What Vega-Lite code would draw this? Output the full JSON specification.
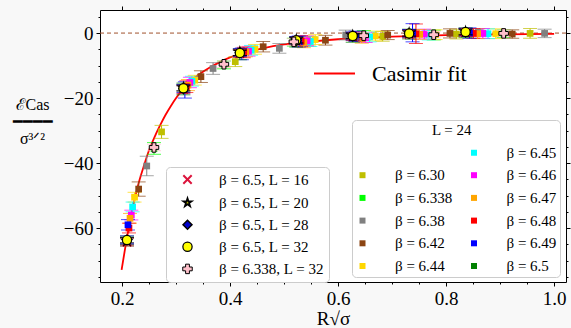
{
 "$schema": "https://vega.github.io/schema/vega-lite/v6.json",
 "width": 466, "height": 272,
 "autosize": {"type": "none"},
 "padding": {"left": 100, "top": 10, "right": 5, "bottom": 46},
 "background": "#f8f8f8",
 "config": {
   "view": {"fill": "white", "stroke": "black", "strokeWidth": 1},
   "font": "Liberation Serif",
   "axis": {"grid": false, "domain": false, "tickColor": "black", "labelColor": "black", "labelFont": "Liberation Serif", "labelFontSize": 19, "titleFont": "Liberation Serif", "titleColor": "black", "titleFontWeight": "normal"},
   "legend": {"labelFont": "Liberation Serif", "titleFont": "Liberation Serif", "labelColor": "black", "titleColor": "black", "titleFontWeight": "normal"}
 },
 "datasets": {
  "fit": [
   {"x":0.199,"y":-72.9},{"x":0.205,"y":-66.8},{"x":0.21,"y":-62},{"x":0.215,"y":-57.5},{"x":0.22,"y":-53.5},{"x":0.225,"y":-49.9},{"x":0.23,"y":-46.5},{"x":0.24,"y":-41},{"x":0.25,"y":-36},{"x":0.26,"y":-32},{"x":0.27,"y":-28.5},{"x":0.28,"y":-25.3},{"x":0.29,"y":-22.5},{"x":0.30,"y":-20},{"x":0.31,"y":-17.8},{"x":0.32,"y":-16},{"x":0.34,"y":-13},{"x":0.36,"y":-10.8},{"x":0.38,"y":-9},{"x":0.40,"y":-7.5},{"x":0.43,"y":-5.9},{"x":0.46,"y":-4.7},{"x":0.50,"y":-3.5},{"x":0.55,"y":-2.6},{"x":0.60,"y":-1.9},{"x":0.65,"y":-1.45},{"x":0.70,"y":-1.1},{"x":0.75,"y":-0.85},{"x":0.80,"y":-0.65},{"x":0.85,"y":-0.5},{"x":0.90,"y":-0.4},{"x":0.95,"y":-0.32},{"x":1.0,"y":-0.25}
  ],
  "l24": [
   {"b":"β = 6.30","x":0.273,"y":-30.4,"e":2.0},{"b":"β = 6.30","x":0.4095,"y":-8.8,"e":1.5},{"b":"β = 6.30","x":0.546,"y":-2.5,"e":1.5},{"b":"β = 6.30","x":0.6825,"y":-1.0,"e":1.5},{"b":"β = 6.30","x":0.819,"y":-0.3,"e":1.5},{"b":"β = 6.30","x":0.9555,"y":-0.1,"e":1.5},
   {"b":"β = 6.338","x":0.259,"y":-35.5,"e":1.8},{"b":"β = 6.338","x":0.3885,"y":-9.8,"e":1.2},{"b":"β = 6.338","x":0.518,"y":-2.8,"e":1.2},{"b":"β = 6.338","x":0.6475,"y":-0.7,"e":1.5},{"b":"β = 6.338","x":0.777,"y":-0.6,"e":1.5},{"b":"β = 6.338","x":0.9065,"y":-0.2,"e":1.2},
   {"b":"β = 6.38","x":0.2456,"y":-40.9,"e":3.0},{"b":"β = 6.38","x":0.3684,"y":-10.9,"e":1.8},{"b":"β = 6.38","x":0.4912,"y":-4.7,"e":1.5},{"b":"β = 6.38","x":0.614,"y":-0.6,"e":1.5},{"b":"β = 6.38","x":0.7368,"y":-0.4,"e":1.5},{"b":"β = 6.38","x":0.8596,"y":0.2,"e":1.2},{"b":"β = 6.38","x":0.9824,"y":-0.1,"e":1.3},
   {"b":"β = 6.42","x":0.2306,"y":-48.0,"e":2.2},{"b":"β = 6.42","x":0.3459,"y":-13.4,"e":1.8},{"b":"β = 6.42","x":0.4612,"y":-4.2,"e":1.6},{"b":"β = 6.42","x":0.5765,"y":-2.2,"e":1.5},{"b":"β = 6.42","x":0.6918,"y":-0.6,"e":1.4},{"b":"β = 6.42","x":0.8071,"y":-0.1,"e":1.4},{"b":"β = 6.42","x":0.9224,"y":-0.3,"e":1.3},
   {"b":"β = 6.44","x":0.223,"y":-50.5,"e":1.5},{"b":"β = 6.44","x":0.3345,"y":-14.5,"e":1.5},{"b":"β = 6.44","x":0.446,"y":-5.0,"e":1.5},{"b":"β = 6.44","x":0.5575,"y":-2.0,"e":1.5},{"b":"β = 6.44","x":0.669,"y":-0.9,"e":1.5},{"b":"β = 6.44","x":0.7805,"y":-0.5,"e":1.5},{"b":"β = 6.44","x":0.892,"y":-0.2,"e":1.5},
   {"b":"β = 6.45","x":0.2194,"y":-53.5,"e":1.5},{"b":"β = 6.45","x":0.3291,"y":-14.8,"e":1.5},{"b":"β = 6.45","x":0.4388,"y":-5.3,"e":1.5},{"b":"β = 6.45","x":0.5485,"y":-2.6,"e":1.5},{"b":"β = 6.45","x":0.6582,"y":-1.2,"e":1.5},{"b":"β = 6.45","x":0.7679,"y":-0.6,"e":1.5},{"b":"β = 6.45","x":0.8776,"y":-0.2,"e":1.5},
   {"b":"β = 6.46","x":0.217,"y":-56.0,"e":1.5},{"b":"β = 6.46","x":0.3255,"y":-15.2,"e":1.6},{"b":"β = 6.46","x":0.434,"y":-5.6,"e":1.5},{"b":"β = 6.46","x":0.5425,"y":-2.4,"e":1.5},{"b":"β = 6.46","x":0.651,"y":-1.4,"e":1.5},{"b":"β = 6.46","x":0.7595,"y":-0.3,"e":1.5},{"b":"β = 6.46","x":0.868,"y":-0.1,"e":1.5},
   {"b":"β = 6.47","x":0.2146,"y":-57.0,"e":1.5},{"b":"β = 6.47","x":0.3219,"y":-16.0,"e":1.7},{"b":"β = 6.47","x":0.4292,"y":-5.8,"e":1.5},{"b":"β = 6.47","x":0.5365,"y":-2.9,"e":1.6},{"b":"β = 6.47","x":0.6438,"y":-1.6,"e":1.5},{"b":"β = 6.47","x":0.7511,"y":-0.4,"e":1.5},{"b":"β = 6.47","x":0.8584,"y":-0.2,"e":1.5},
   {"b":"β = 6.48","x":0.2126,"y":-60.0,"e":1.5},{"b":"β = 6.48","x":0.3189,"y":-16.5,"e":1.8},{"b":"β = 6.48","x":0.4252,"y":-6.0,"e":1.6},{"b":"β = 6.48","x":0.5315,"y":-2.5,"e":1.7},{"b":"β = 6.48","x":0.6378,"y":-1.1,"e":1.5},{"b":"β = 6.48","x":0.7441,"y":-0.2,"e":3.0},{"b":"β = 6.48","x":0.8504,"y":-0.1,"e":1.5},
   {"b":"β = 6.49","x":0.2108,"y":-59.0,"e":1.6},{"b":"β = 6.49","x":0.3162,"y":-17.5,"e":2.5},{"b":"β = 6.49","x":0.4216,"y":-6.4,"e":1.8},{"b":"β = 6.49","x":0.527,"y":-2.6,"e":1.7},{"b":"β = 6.49","x":0.6324,"y":-1.0,"e":1.6},{"b":"β = 6.49","x":0.7378,"y":0.1,"e":2.8},{"b":"β = 6.49","x":0.8432,"y":0.0,"e":1.6},
   {"b":"β = 6.5","x":0.209,"y":-64.0,"e":1.5},{"b":"β = 6.5","x":0.3135,"y":-17.2,"e":1.8},{"b":"β = 6.5","x":0.418,"y":-6.6,"e":1.6},{"b":"β = 6.5","x":0.5225,"y":-2.8,"e":1.5},{"b":"β = 6.5","x":0.627,"y":-1.3,"e":1.5},{"b":"β = 6.5","x":0.7315,"y":-0.3,"e":1.5},{"b":"β = 6.5","x":0.836,"y":0.1,"e":1.5}
  ],
  "sp": [
   {"s":"β = 6.5, L = 16","x":0.209,"y":-64.3,"e":1.2},{"s":"β = 6.5, L = 16","x":0.3135,"y":-17.4,"e":1.2},{"s":"β = 6.5, L = 16","x":0.418,"y":-6.3,"e":1.2},{"s":"β = 6.5, L = 16","x":0.5225,"y":-2.5,"e":1.2},{"s":"β = 6.5, L = 16","x":0.627,"y":-1.1,"e":1.2},{"s":"β = 6.5, L = 16","x":0.7315,"y":-0.3,"e":1.2},{"s":"β = 6.5, L = 16","x":0.836,"y":0.2,"e":1.2},
   {"s":"β = 6.5, L = 20","x":0.209,"y":-64.0,"e":1.0},{"s":"β = 6.5, L = 20","x":0.3135,"y":-16.8,"e":1.0},{"s":"β = 6.5, L = 20","x":0.418,"y":-5.9,"e":1.0},{"s":"β = 6.5, L = 20","x":0.5225,"y":-2.1,"e":1.0},{"s":"β = 6.5, L = 20","x":0.627,"y":-0.8,"e":1.0},{"s":"β = 6.5, L = 20","x":0.7315,"y":0.0,"e":1.0},{"s":"β = 6.5, L = 20","x":0.836,"y":0.4,"e":1.0},
   {"s":"β = 6.5, L = 28","x":0.209,"y":-63.6,"e":1.2},{"s":"β = 6.5, L = 28","x":0.3135,"y":-17.1,"e":1.2},{"s":"β = 6.5, L = 28","x":0.418,"y":-6.0,"e":1.2},{"s":"β = 6.5, L = 28","x":0.5225,"y":-2.3,"e":1.2},{"s":"β = 6.5, L = 28","x":0.627,"y":-0.9,"e":1.2},{"s":"β = 6.5, L = 28","x":0.7315,"y":-0.1,"e":1.2},{"s":"β = 6.5, L = 28","x":0.836,"y":0.3,"e":1.2},
   {"s":"β = 6.5, L = 32","x":0.209,"y":-63.7,"e":0.8},{"s":"β = 6.5, L = 32","x":0.3135,"y":-17.0,"e":0.8},{"s":"β = 6.5, L = 32","x":0.418,"y":-6.1,"e":0.8},{"s":"β = 6.5, L = 32","x":0.5225,"y":-2.2,"e":0.8},{"s":"β = 6.5, L = 32","x":0.627,"y":-0.9,"e":0.8},{"s":"β = 6.5, L = 32","x":0.7315,"y":-0.1,"e":0.8},{"s":"β = 6.5, L = 32","x":0.836,"y":0.3,"e":0.8},
   {"s":"β = 6.338, L = 32","x":0.259,"y":-35.2,"e":1.0},{"s":"β = 6.338, L = 32","x":0.3885,"y":-9.6,"e":1.0},{"s":"β = 6.338, L = 32","x":0.518,"y":-2.7,"e":1.0},{"s":"β = 6.338, L = 32","x":0.6475,"y":-0.8,"e":1.0},{"s":"β = 6.338, L = 32","x":0.777,"y":-0.5,"e":1.0},{"s":"β = 6.338, L = 32","x":0.9065,"y":-0.1,"e":1.0}
  ]
 },
 "resolve": {"scale": {"color": "independent"}, "axis": {"x": "independent", "y": "independent"}},
 "layer": [
  {
   "data": {"values": [{}]},
   "mark": {"type": "rule", "color": "#a0522d", "strokeDash": [4, 3], "strokeWidth": 1},
   "encoding": {"y": {"datum": 0, "type": "quantitative", "axis": null, "scale": {"domain": [-76.6, 7.1], "nice": false, "zero": false}}}
  },
  {
   "data": {"name": "fit"},
   "mark": {"type": "line", "strokeWidth": 1.8, "interpolate": "monotone"},
   "encoding": {
    "x": {"field": "x", "type": "quantitative", "axis": null, "scale": {"domain": [0.159, 1.022], "nice": false, "zero": false}},
    "y": {"field": "y", "type": "quantitative", "axis": null, "scale": {"domain": [-76.6, 7.1], "nice": false, "zero": false}},
    "color": {"datum": "Casimir fit", "scale": {"range": ["#ff0000"]}, "legend": {"title": null, "orient": "none", "legendX": 213, "legendY": 42, "symbolType": "stroke", "symbolSize": 1681, "symbolStrokeWidth": 2, "labelFontSize": 22, "labelLimit": 300, "labelOffset": 16, "padding": 0}}
   }
  },
  {
   "data": {"name": "l24"},
   "mark": {"type": "errorbar", "ticks": {"size": 14}, "thickness": 1},
   "encoding": {
    "x": {"field": "x", "type": "quantitative", "scale": {"domain": [0.159, 1.022], "nice": false, "zero": false}, "axis": {"orient": "bottom", "values": [0.2, 0.4, 0.6, 0.8, 1.0], "format": ".1f", "tickSize": 4, "labelPadding": 3, "title": "R√σ", "titleFontSize": 19, "titleAnchor": "middle", "titleBaseline": "middle", "titleX": 233, "titleY": 36}},
    "y": {"field": "y", "type": "quantitative", "scale": {"domain": [-76.6, 7.1], "nice": false, "zero": false}, "axis": {"orient": "left", "values": [0, -20, -40, -60], "format": "d", "tickSize": 4, "labelPadding": 3, "title": ["ℰCas", "━━━━", "σ³ᐟ²"], "titleAngle": 0, "titleAlign": "center", "titleBaseline": "middle", "titleX": -68, "titleY": 94, "titleFontSize": 16, "titleLineHeight": 17}},
    "yError": {"field": "e"},
    "color": {"field": "b", "type": "nominal", "legend": null, "scale": {"domain": [" ", "β = 6.30", "β = 6.338", "β = 6.38", "β = 6.42", "β = 6.44", "β = 6.45", "β = 6.46", "β = 6.47", "β = 6.48", "β = 6.49", "β = 6.5"], "range": ["transparent", "#bfbf00", "#00ff00", "#808080", "#8b4513", "#ffd700", "#00ffff", "#ff00ff", "#ffa500", "#ff0000", "#0000ff", "#008000"]}}
   }
  },
  {
   "data": {"name": "l24"},
   "mark": {"type": "square", "size": 45, "opacity": 1},
   "encoding": {
    "x": {"field": "x", "type": "quantitative", "scale": {"domain": [0.159, 1.022], "nice": false, "zero": false}, "axis": {"orient": "top", "values": [0.2, 0.4, 0.6, 0.8, 1.0], "labels": false, "tickSize": 4, "title": null}},
    "y": {"field": "y", "type": "quantitative", "scale": {"domain": [-76.6, 7.1], "nice": false, "zero": false}, "axis": {"orient": "right", "values": [0, -20, -40, -60], "labels": false, "tickSize": 4, "title": null}},
    "color": {"field": "b", "type": "nominal", "scale": {"domain": [" ", "β = 6.30", "β = 6.338", "β = 6.38", "β = 6.42", "β = 6.44", "β = 6.45", "β = 6.46", "β = 6.47", "β = 6.48", "β = 6.49", "β = 6.5"], "range": ["transparent", "#bfbf00", "#00ff00", "#808080", "#8b4513", "#ffd700", "#00ffff", "#ff00ff", "#ffa500", "#ff0000", "#0000ff", "#008000"]}, "legend": {"title": "\u2800\u2800\u2800\u2800\u2800\u2800\u2800L = 24", "orient": "none", "legendX": 252, "legendY": 110, "columns": 2, "columnPadding": 13.5, "rowPadding": 6.7, "symbolType": "square", "symbolSize": 36, "labelFontSize": 15, "labelOffset": 25, "titleFontSize": 15, "titlePadding": 7, "padding": 3, "fillColor": "white", "strokeColor": "#cccccc", "cornerRadius": 4, "symbolStrokeWidth": 0}}
   }
  },
  {
   "data": {"name": "sp"},
   "mark": {"type": "errorbar", "ticks": {"size": 14}, "thickness": 1},
   "encoding": {
    "x": {"field": "x", "type": "quantitative", "scale": {"domain": [0.159, 1.022], "nice": false, "zero": false}, "axis": {"orient": "bottom", "values": [0.2, 0.25, 0.3, 0.35, 0.4, 0.45, 0.5, 0.55, 0.6, 0.65, 0.7, 0.75, 0.8, 0.85, 0.9, 0.95, 1.0], "labels": false, "tickSize": 2, "title": null}},
    "y": {"field": "y", "type": "quantitative", "scale": {"domain": [-76.6, 7.1], "nice": false, "zero": false}, "axis": {"orient": "left", "values": [5, 0, -5, -10, -15, -20, -25, -30, -35, -40, -45, -50, -55, -60, -65, -70, -75], "labels": false, "tickSize": 2, "title": null}},
    "yError": {"field": "e"},
    "color": {"field": "s", "type": "nominal", "legend": null, "scale": {"domain": ["β = 6.5, L = 16", "β = 6.5, L = 20", "β = 6.5, L = 28", "β = 6.5, L = 32", "β = 6.338, L = 32"], "range": ["#dc143c", "#000000", "#0000cd", "#000000", "#ffc0cb"]}}
   }
  },
  {
   "data": {"name": "sp"},
   "mark": {"type": "point", "opacity": 1},
   "encoding": {
    "x": {"field": "x", "type": "quantitative", "scale": {"domain": [0.159, 1.022], "nice": false, "zero": false}, "axis": {"orient": "top", "values": [0.2, 0.25, 0.3, 0.35, 0.4, 0.45, 0.5, 0.55, 0.6, 0.65, 0.7, 0.75, 0.8, 0.85, 0.9, 0.95, 1.0], "labels": false, "tickSize": 2, "title": null}},
    "y": {"field": "y", "type": "quantitative", "scale": {"domain": [-76.6, 7.1], "nice": false, "zero": false}, "axis": {"orient": "right", "values": [5, 0, -5, -10, -15, -20, -25, -30, -35, -40, -45, -50, -55, -60, -65, -70, -75], "labels": false, "tickSize": 2, "title": null}},
    "shape": {"field": "s", "type": "nominal", "scale": {"domain": ["β = 6.5, L = 16", "β = 6.5, L = 20", "β = 6.5, L = 28", "β = 6.5, L = 32", "β = 6.338, L = 32"], "range": ["M-1,-1L1,1M1,-1L-1,1", "M0,-1L0.2245,-0.309L0.951,-0.309L0.363,0.118L0.588,0.809L0,0.382L-0.588,0.809L-0.363,0.118L-0.951,-0.309L-0.2245,-0.309Z", "diamond", "circle", "cross"]}, "legend": {"title": null, "orient": "none", "legendX": 66, "legendY": 157, "fillColor": "white", "strokeColor": "#cccccc", "cornerRadius": 4, "padding": 5, "rowPadding": 6.1, "labelFontSize": 15, "labelOffset": 24, "symbolOffset": 9}},
    "fill": {"field": "s", "type": "nominal", "scale": {"domain": ["β = 6.5, L = 16", "β = 6.5, L = 20", "β = 6.5, L = 28", "β = 6.5, L = 32", "β = 6.338, L = 32"], "range": ["transparent", "#bfbf00", "#0000cd", "#ffff00", "#ffc0cb"]}},
    "stroke": {"field": "s", "type": "nominal", "scale": {"domain": ["β = 6.5, L = 16", "β = 6.5, L = 20", "β = 6.5, L = 28", "β = 6.5, L = 32", "β = 6.338, L = 32"], "range": ["#dc143c", "#000000", "#000000", "#000000", "#000000"]}},
    "strokeWidth": {"field": "s", "type": "nominal", "scale": {"domain": ["β = 6.5, L = 16", "β = 6.5, L = 20", "β = 6.5, L = 28", "β = 6.5, L = 32", "β = 6.338, L = 32"], "range": [2, 1, 1, 1, 1]}},
    "size": {"field": "s", "type": "nominal", "scale": {"domain": ["β = 6.5, L = 16", "β = 6.5, L = 20", "β = 6.5, L = 28", "β = 6.5, L = 32", "β = 6.338, L = 32"], "range": [70, 90, 130, 90, 100]}}
   }
  }
 ]
}
